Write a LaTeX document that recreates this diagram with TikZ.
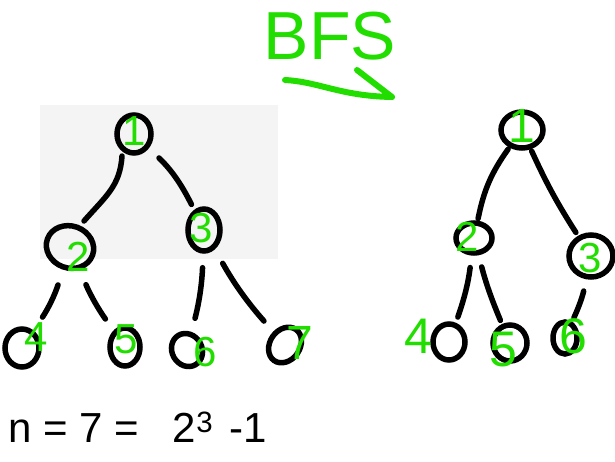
\documentclass[tikz,border=0pt]{standalone}
\usepackage{fontspec}
\setmainfont{Liberation Sans}
\usetikzlibrary{shapes.geometric,arrows.meta,calc}
\definecolor{hgreen}{HTML}{22DD00}
\definecolor{panel}{HTML}{F4F4F4}
\tikzset{
  vtx/.style={draw=black, line width=5.5pt, ellipse, inner sep=0pt},
  edge/.style={draw=black, line width=5.5pt, line cap=round},
  lab/.style={text=hgreen, font=\fontsize{42}{42}\selectfont, inner sep=0pt},
  formula/.style={text=black, font=\fontsize{42}{42}\selectfont, inner sep=0pt},
}
\begin{document}
\begin{tikzpicture}[x=1pt,y=-1pt]
\useasboundingbox (0,0) rectangle (615,461);
\fill[panel] (40,105) rectangle (278,259);
% title
\node[text=hgreen, font=\fontsize{68}{68}\selectfont, inner sep=0pt] (title) at (330,36) {BFS};
\coordinate (ul1) at (285,80);
\coordinate (ul2) at (392,97);
\coordinate (ul3) at (357,70);
\draw[draw=hgreen, line width=6pt, line cap=round, line join=round] (ul1) .. controls (320,82) and (340,96) .. (ul2) -- (ul3);
% left tree
\node[vtx, minimum width=34pt, minimum height=38pt] (L1) at (134,134) {};
\node[vtx, minimum width=48pt, minimum height=42pt, rotate=-20] (L2) at (70,247) {};
\node[vtx, minimum width=32pt, minimum height=42pt] (L3) at (204,230) {};
\node[vtx, minimum width=34pt, minimum height=38pt] (L4) at (22,348) {};
\node[vtx, minimum width=30pt, minimum height=38pt] (L5) at (125,347) {};
\node[vtx, minimum width=30pt, minimum height=34pt, rotate=30] (L6) at (187,350) {};
\node[vtx, minimum width=30pt, minimum height=38pt, rotate=-35] (L7) at (285,345) {};
\draw[edge] ($(L1)+(-12,22)$) .. controls +(-2,30) and +(22,-25) .. ($(L2)+(14,-26)$);
\draw[edge, shorten <=14pt, shorten >=6pt] (L1) to[bend left=10] (L3);
\draw[edge, shorten <=16pt, shorten >=16pt] (L2) to[bend left=8] (L4);
\draw[edge, shorten <=16pt, shorten >=14pt] (L2) to[bend left=-6] (L5);
\draw[edge, shorten <=14pt, shorten >=14pt] (L3) to[bend left=6] (L6);
\draw[edge, shorten <=16pt, shorten >=14pt] (L3) to[bend left=-6] (L7);
\node[lab] (l1) at (134,131) {1};
\node[lab] (l2) at (78,257) {2};
\node[lab] (l3) at (201,228) {3};
\node[lab] (l4) at (36,337) {4};
\node[lab] (l5) at (126,339) {5};
\node[lab] (l6) at (205,352) {6};
\node[lab, font=\fontsize{48}{48}\selectfont] (l7) at (300,343) {7};
% right tree
\node[vtx, minimum width=42pt, minimum height=36pt] (R1) at (522,130) {};
\node[vtx, minimum width=36pt, minimum height=30pt] (R2) at (474,238) {};
\node[vtx, minimum width=44pt, minimum height=42pt] (R3) at (591,256) {};
\node[vtx, minimum width=32pt, minimum height=36pt] (R4) at (449,342) {};
\node[vtx, minimum width=34pt, minimum height=36pt] (R5) at (510,343) {};
\node[vtx, minimum width=24pt, minimum height=32pt] (R6) at (565,338) {};
\draw[edge, shorten <=2pt, shorten >=2pt] (R1) to[bend left=-12] (R2);
\draw[edge, shorten <=2pt, shorten >=4pt] (R1) to[bend left=-4] (R3);
\draw[edge, shorten <=12pt, shorten >=6pt] (R2) to[bend left=6] (R4);
\draw[edge, shorten <=12pt, shorten >=4pt] (R2) to[bend left=-4] (R5);
\draw[edge, shorten <=12pt, shorten >=4pt] (R3) to[bend left=6] (R6);
\node[lab, font=\fontsize{48}{48}\selectfont] (r1) at (522,126) {1};
\node[lab] (r2) at (467,237) {2};
\node[lab] (r3) at (590,258) {3};
\node[lab, font=\fontsize{50}{50}\selectfont] (r4) at (418,336) {4};
\node[lab, font=\fontsize{50}{50}\selectfont] (r5) at (503,350) {5};
\node[lab, font=\fontsize{50}{50}\selectfont] (r6) at (573,336) {6};
% formula
\node[formula, anchor=base west] (f) at (8,442) {n = 7 =\hspace{34pt}2\textsuperscript{3}\hspace{16pt}-1};
\end{tikzpicture}
\end{document}
